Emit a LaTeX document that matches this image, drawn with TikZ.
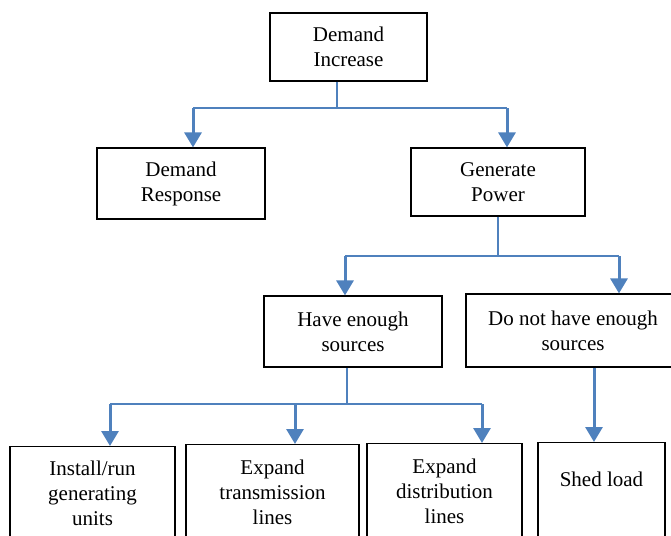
\documentclass[tikz,border=0pt]{standalone}
\usepackage{fontspec}
\setmainfont{Liberation Serif}
\usepackage{xcolor}
\usepackage{tikz}
\usetikzlibrary{positioning, arrows.meta}

\definecolor{linkblue}{HTML}{4F81BD}

\begin{document}
\begin{tikzpicture}[x=1pt, y=-1pt,
        box/.style={draw, line width=1.2pt, align=center, inner sep=0pt,
            font=\fontsize{21}{25}\selectfont},
        link/.style={draw=linkblue, line width=1.8pt},
        arr/.style={draw=linkblue, line width=3pt, -{Triangle[width=17pt, length=15pt]}}]
        \useasboundingbox (0,0) rectangle (671,535);
        % boxes
        \node[box, minimum width=157pt, minimum height=68pt] (inc) at (348.5,47) {Demand\\Increase};
        \node[box, minimum width=168pt, minimum height=71pt] (resp) at (181,183.5) {Demand\\Response};
        \node[box, minimum width=174pt, minimum height=68pt] (gen) at (498,182) {Generate\\Power};
        \node[box, minimum width=178pt, minimum height=71pt] (have) at (353,331.5) {Have enough\\sources};
        \node[box, minimum width=214pt, minimum height=73pt] (nothave) at (573,330.5) {Do not have enough\\sources};
        \node[box, minimum width=165pt, minimum height=94pt, anchor=north] (units) at (92.5,446) {Install/run\\generating\\units};
        \node[box, minimum width=173pt, minimum height=96pt, anchor=north] (trans) at (272.5,444) {Expand\\transmission\\lines};
        \node[box, minimum width=155pt, minimum height=95pt, anchor=north] (dist) at (444.5,443) {Expand\\distribution\\lines};
        \node[box, minimum width=127pt, minimum height=100pt, anchor=north,
            label={[anchor=center, yshift=-37pt, font=\fontsize{21}{25}\selectfont]north:Shed load}] (shed) at (601.5,442) {};
        % branch points
        \coordinate (j1) at (337,108);
        \coordinate (j1l) at (193,108);
        \coordinate (j1r) at (507,108);
        \coordinate (j2) at (498,256);
        \coordinate (j2l) at (345,256);
        \coordinate (j2r) at (619,256);
        \coordinate (j3) at (347,404);
        \coordinate (j3a) at (110,404);
        \coordinate (j3b) at (295,404);
        \coordinate (j3c) at (482,404);
        % connectors
        \draw[link] (inc.south -| j1) -- (j1);
        \draw[link] (j1l) -- (j1r);
        \draw[arr] (j1l) -- (j1l |- resp.north);
        \draw[arr] (j1r) -- (j1r |- gen.north);
        \draw[link] (gen.south -| j2) -- (j2);
        \draw[link] (j2l) -- (j2r);
        \draw[arr] (j2l) -- (j2l |- have.north);
        \draw[arr] (j2r) -- (j2r |- nothave.north);
        \draw[link] (have.south -| j3) -- (j3);
        \draw[link] (j3a) -- (j3c);
        \draw[arr] (j3a) -- (j3a |- units.north);
        \draw[arr] (j3b) -- (j3b |- trans.north);
        \draw[arr] (j3c) -- (j3c |- dist.north);
        \draw[arr] (nothave.south -| 594,0) -- (594,0 |- shed.north);
    \end{tikzpicture}
\end{document}
